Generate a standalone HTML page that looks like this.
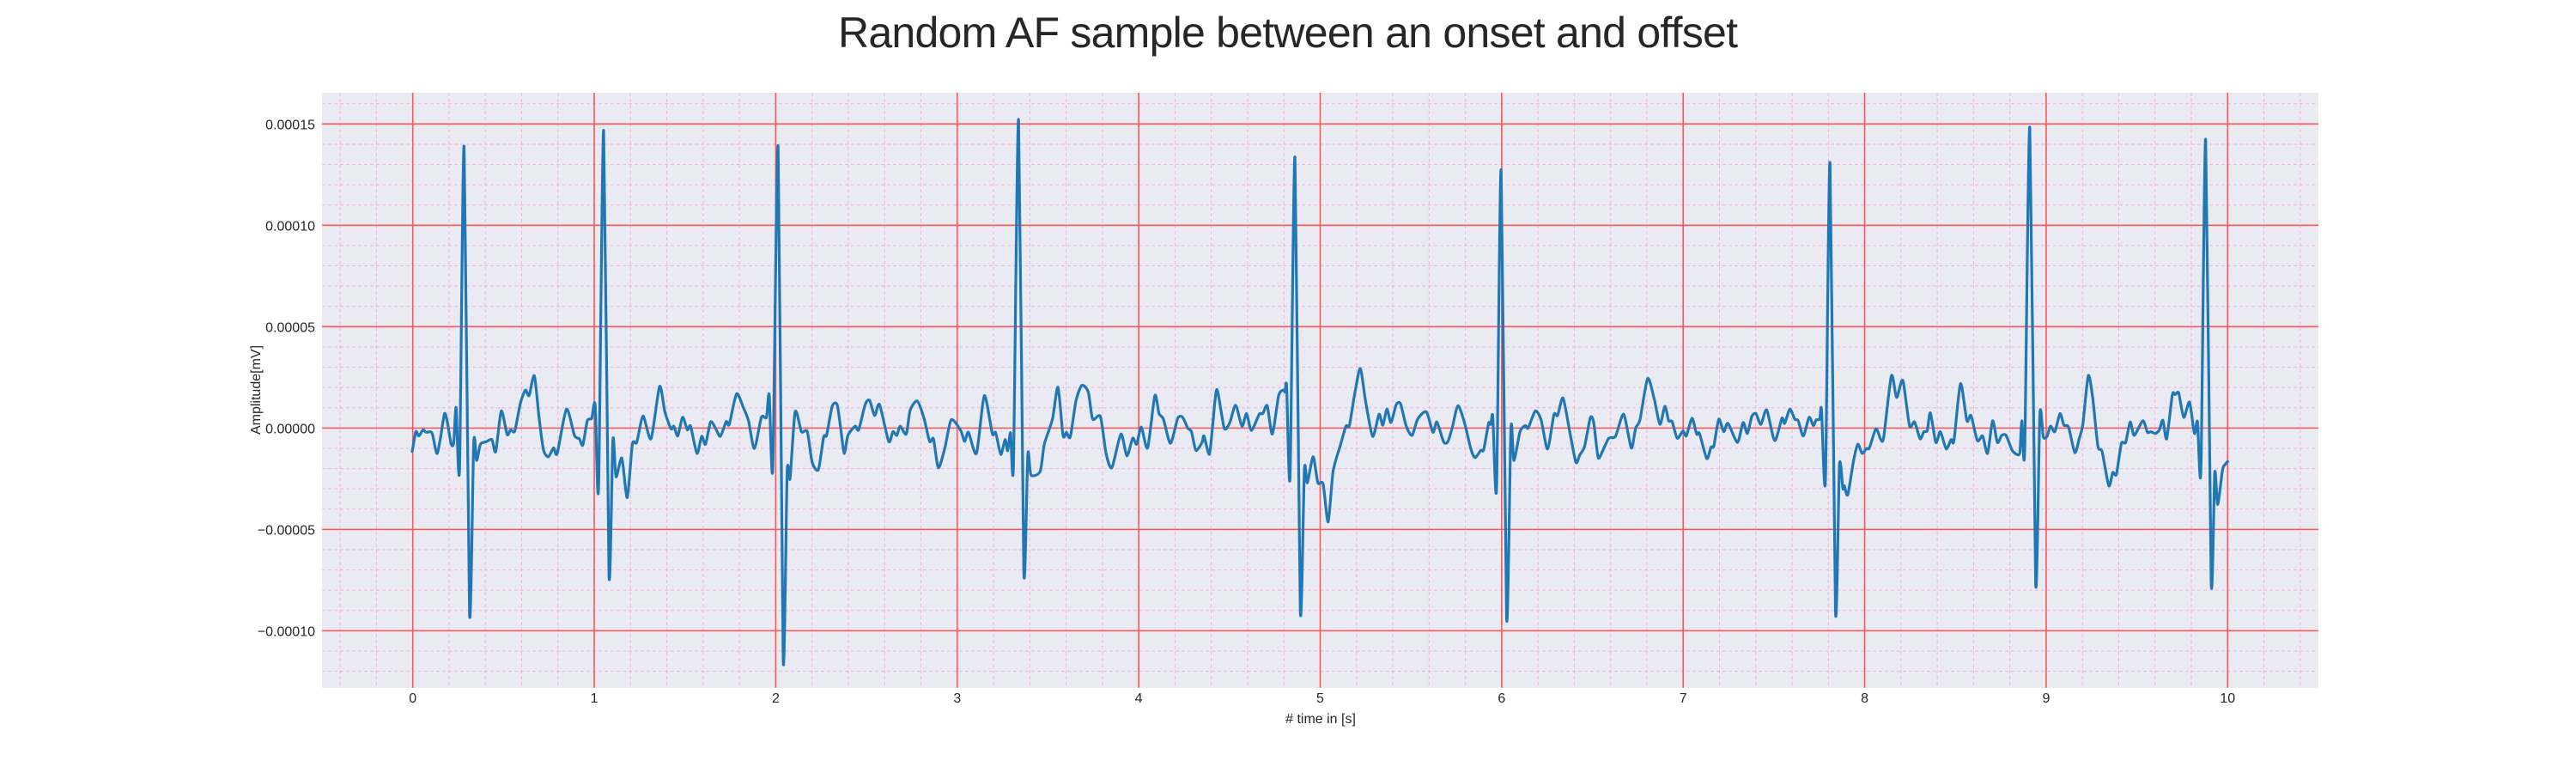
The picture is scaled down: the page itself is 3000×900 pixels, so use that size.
<!DOCTYPE html>
<html><head><meta charset="utf-8"><style>
html,body{margin:0;padding:0;background:#fff;}
svg{display:block;font-family:"Liberation Sans",Arial,sans-serif;}
</style></head><body>
<svg id="chart" width="3000" height="900" viewBox="0 0 3000 900">
<text x="1500" y="55" text-anchor="middle" font-size="50" fill="#262626" textLength="1048">Random AF sample between an onset and offset</text>
<rect x="375" y="108" width="2325" height="693" fill="#eaeaf2"/>
<g id="grid"></g>
<g id="ticks"></g>
<g id="series"></g>
<text x="1538" y="842" text-anchor="middle" font-size="16" fill="#262626"># time in [s]</text>
<text x="0" y="0" transform="translate(303,454) rotate(-90)" text-anchor="middle" font-size="16" fill="#262626">Amplitude[mV]</text>
</svg>
<script>
const xTicks = [0,1,2,3,4,5,6,7,8,9,10];
const yTicks = [0.00015,0.0001,0.00005,0,-0.00005,-0.0001];
const yTickLabels = ["0.00015","0.00010","0.00005","0.00000","\u22120.00005","\u22120.00010"];
const ampScale = 1e-5;
const times = [
-0.003,0.017,0.033,0.057,0.073,0.096,0.109,0.133,0.152,0.175,0.191,0.212,0.226,0.239,0.258,0.283,0.313,0.336,0.352,0.373,0.404,0.436,0.457,0.488,0.520,0.539,0.562,0.594,0.621,0.641,0.670,0.697,0.720,0.747,0.776,0.796,0.847,0.891,0.918,0.937,0.962,0.986,1.005,1.024,1.052,1.081,1.103,1.120,1.152,1.182,1.210,1.234,1.269,1.313,1.360,1.389,1.423,1.439,1.460,1.487,1.513,1.531,1.566,1.592,1.613,1.641,1.668,1.695,1.727,1.744,1.784,1.823,1.850,1.882,1.921,1.949,1.964,1.984,2.013,2.041,2.063,2.079,2.107,2.142,2.174,
2.201,2.235,2.264,2.280,2.311,2.338,2.359,2.377,2.398,2.438,2.457,2.493,2.517,2.545,2.572,2.622,2.646,2.667,2.686,2.719,2.741,2.780,2.817,2.848,2.869,2.896,2.932,2.967,3.019,3.041,3.062,3.106,3.149,3.193,3.212,3.240,3.264,3.278,3.294,3.310,3.338,3.367,3.389,3.406,3.457,3.480,3.525,3.555,3.583,3.602,3.623,3.654,3.686,3.722,3.746,3.789,3.820,3.852,3.902,3.935,3.967,3.989,4.014,4.049,4.089,4.112,4.136,4.175,4.215,4.242,4.270,4.291,4.315,4.349,
4.360,4.389,4.408,4.431,4.471,4.502,4.534,4.569,4.594,4.621,4.664,4.684,4.708,4.736,4.771,4.795,4.806,4.815,4.834,4.861,4.890,4.913,4.929,4.961,4.987,5.016,5.044,5.071,5.111,5.142,5.161,5.190,5.221,5.250,5.289,5.324,5.345,5.368,5.390,5.419,5.443,5.474,5.506,5.537,5.585,5.621,5.643,5.680,5.703,5.727,5.759,5.795,5.830,5.853,5.885,5.901,5.928,5.940,5.951,5.972,5.997,6.027,6.051,6.067,6.101,6.130,6.146,6.185,6.217,6.253,6.288,6.308,6.338,6.375,6.409,6.430,6.457,6.488,6.506,6.525,
6.537,6.588,6.627,6.672,6.714,6.738,6.762,6.804,6.841,6.872,6.899,6.920,6.939,6.967,6.999,7.017,7.049,7.074,7.090,7.130,7.153,7.169,7.196,7.223,7.247,7.299,7.330,7.354,7.378,7.401,7.428,7.460,7.504,7.544,7.559,7.588,7.615,7.634,7.662,7.694,7.717,7.733,7.752,7.762,7.784,7.809,7.839,7.861,7.880,7.888,7.907,7.939,7.962,7.986,8.010,8.026,8.062,8.089,8.105,8.147,8.176,8.210,8.247,8.275,8.305,8.326,8.345,8.362,8.392,8.417,8.449,8.476,8.492,8.528,8.563,8.586,8.621,8.650,8.677,8.705,
8.731,8.755,8.779,8.811,8.834,8.855,8.866,8.882,8.910,8.942,8.965,8.984,9.005,9.024,9.048,9.076,9.098,9.123,9.158,9.182,9.202,9.232,9.256,9.285,9.308,9.345,9.367,9.387,9.414,9.438,9.463,9.485,9.533,9.558,9.577,9.601,9.624,9.643,9.664,9.695,9.711,9.730,9.758,9.790,9.817,9.834,9.853,9.879,9.909,9.929,9.945,9.972,9.988,10.000];
const amps = [
-1.16,-0.18,-0.39,-0.09,-0.21,-0.18,-0.32,-1.26,-0.53,0.71,0.27,-0.80,-0.71,1.01,-2.01,13.88,-9.13,-0.71,-1.60,-0.80,-0.68,-0.57,-1.16,0.84,-0.32,-0.09,-0.14,1.25,1.87,1.60,2.58,0.44,-1.07,-1.42,-0.98,-1.25,0.93,-0.36,-0.53,-0.84,0.36,0.48,1.16,-2.94,14.68,-7.21,-0.57,-2.40,-1.48,-3.43,-0.80,-0.71,0.59,-0.53,2.05,0.80,-0.04,0.09,-0.39,0.53,-0.09,0.09,-1.25,-0.41,-0.80,0.30,0.00,-0.41,0.32,0.18,1.69,0.98,0.36,-1.01,0.53,0.53,1.65,-1.96,13.88,-11.44,-2.19,-2.49,0.80,-0.18,-0.18,
-1.69,-2.05,-0.44,-0.36,1.07,1.16,-0.09,-1.25,-0.36,0.09,-0.09,1.16,1.37,0.62,1.16,-0.66,-0.18,-0.36,0.09,-0.30,0.89,1.33,0.48,-0.66,-0.53,-1.96,-0.98,0.41,-0.12,-0.66,-0.21,-1.25,1.60,-0.27,-0.23,-1.30,-0.57,-1.12,-0.23,-1.78,15.21,-7.06,-1.30,-2.31,-2.14,-0.80,0.44,2.01,-0.36,-0.21,-0.44,1.33,2.10,1.78,0.44,0.57,-1.25,-1.96,-0.30,-1.37,-0.50,-0.80,0.05,-0.98,1.60,0.71,0.44,-0.75,0.48,0.53,0.00,-0.18,-1.10,-0.71,
-0.39,-1.30,0.18,1.90,0.00,0.27,1.12,0.09,0.71,-0.12,0.68,0.71,1.10,-0.30,1.60,1.87,1.78,2.05,-2.40,13.35,-8.99,-2.05,-2.70,-1.42,-2.70,-2.76,-4.63,-2.14,-0.85,0.09,0.12,1.69,2.94,1.33,-0.41,0.68,0.14,0.93,0.27,1.16,1.19,0.09,-0.36,0.44,0.80,-0.21,0.30,-0.68,-0.68,0.00,1.10,0.27,-1.03,-1.46,-1.10,-1.07,0.23,0.18,0.57,-2.94,12.72,-9.38,0.00,-1.60,-0.18,0.12,0.00,0.84,0.41,-1.03,0.66,0.62,1.48,-0.18,-1.69,-1.33,-0.89,0.50,0.32,-1.07,
-1.48,-0.53,-0.41,0.68,-0.98,0.00,0.41,2.44,1.42,0.18,1.07,0.36,0.32,-0.50,-0.14,-0.39,0.48,-0.30,-0.27,-1.51,-0.94,-0.89,0.44,-0.18,0.23,-0.71,0.27,-0.27,0.57,0.71,0.18,0.89,-0.62,0.48,0.23,0.93,0.44,0.36,-0.39,0.53,0.12,0.41,0.44,0.93,-2.58,13.08,-9.04,-1.83,-2.99,-2.85,-3.29,-1.60,-0.80,-1.25,-1.01,-0.98,-0.04,-0.57,-0.44,2.58,1.51,2.35,0.12,0.30,-0.53,-0.18,-0.12,0.75,-0.71,-0.18,-1.03,-0.57,-0.62,2.19,0.36,0.62,-0.62,-0.39,-1.25,0.36,
-0.71,-0.36,-0.36,-1.07,-1.28,-1.21,0.36,-1.07,14.82,-7.65,0.68,-0.44,-0.41,0.09,-0.18,0.71,0.14,0.05,-1.21,-0.53,0.18,2.58,1.51,-0.89,-1.16,-2.85,-2.19,-2.28,-0.77,-0.71,0.30,-0.36,0.36,-0.21,-0.18,-0.27,-0.09,0.39,-0.53,1.64,1.65,1.73,0.53,1.28,-0.27,0.32,-2.05,14.23,-7.56,-2.19,-3.77,-2.05,-1.78,-1.65];

const NS='http://www.w3.org/2000/svg';
const L=375,R=2700,T=108,B=800.7;
const xMin=-0.5,xMax=10.5,yMax=1.654e-4,yMin=-1.281e-4;
const sx=v=>L+(v-xMin)/(xMax-xMin)*(R-L);
const sy=v=>T+(yMax-v)/(yMax-yMin)*(B-T);
function mk(tag,attrs,parent){const e=document.createElementNS(NS,tag);for(const k in attrs)e.setAttribute(k,attrs[k]);parent.appendChild(e);return e;}
const grid=document.getElementById('grid'),ticks=document.getElementById('ticks'),series=document.getElementById('series');
for(let i=-2;i<=52;i++){const v=i*0.2;if(v<xMin||v>xMax||i%5===0)continue;
 const l=mk('line',{x1:sx(v),x2:sx(v),y1:T,y2:B,stroke:'#f2a6da','stroke-width':1,'stroke-dasharray':'4,3','stroke-opacity':0.8},grid);
 
 }
for(let i=-12;i<=16;i++){const v=i*1e-5;if(v<yMin||v>yMax||i%5===0)continue;
 const l=mk('line',{x1:L,x2:R,y1:sy(v),y2:sy(v),stroke:'#f2a6da','stroke-width':1,'stroke-dasharray':'4,3','stroke-opacity':0.8},grid);
 
 }
xTicks.forEach(v=>{
 const l=mk('line',{x1:sx(v),x2:sx(v),y1:T,y2:B,stroke:'#ff5555','stroke-width':1.6},grid);
 
 
 const t=mk('text',{x:sx(v),y:818,'text-anchor':'middle','font-size':16,fill:'#262626'},ticks);
 t.textContent=String(v);
 
 });
yTicks.forEach((v,i)=>{
 const l=mk('line',{x1:L,x2:R,y1:sy(v),y2:sy(v),stroke:'#ff5555','stroke-width':1.6},grid);
 
 
 const t=mk('text',{x:367,y:sy(v)+6,'text-anchor':'end','font-size':16,fill:'#262626'},ticks);
 t.textContent=yTickLabels[i];
 
 });
// smooth curve (Catmull-Rom, mild tension)
const P=times.map((t,i)=>[sx(t),sy(amps[i]*ampScale)]);
let d='M'+P[0][0].toFixed(1)+' '+P[0][1].toFixed(1);
const k=0.12;
for(let i=0;i<P.length-1;i++){
 const p0=P[Math.max(0,i-1)],p1=P[i],p2=P[i+1],p3=P[Math.min(P.length-1,i+2)];
 const c1=[p1[0]+(p2[0]-p0[0])*k,p1[1]+(p2[1]-p0[1])*k];
 const c2=[p2[0]-(p3[0]-p1[0])*k,p2[1]-(p3[1]-p1[1])*k];
 d+='C'+c1[0].toFixed(1)+' '+c1[1].toFixed(1)+' '+c2[0].toFixed(1)+' '+c2[1].toFixed(1)+' '+p2[0].toFixed(1)+' '+p2[1].toFixed(1);
}
const p=mk('path',{d:d,fill:'none',stroke:'#1f77b4','stroke-width':3.2,'stroke-linejoin':'round','stroke-linecap':'round'},series);


</script>
</body></html>
